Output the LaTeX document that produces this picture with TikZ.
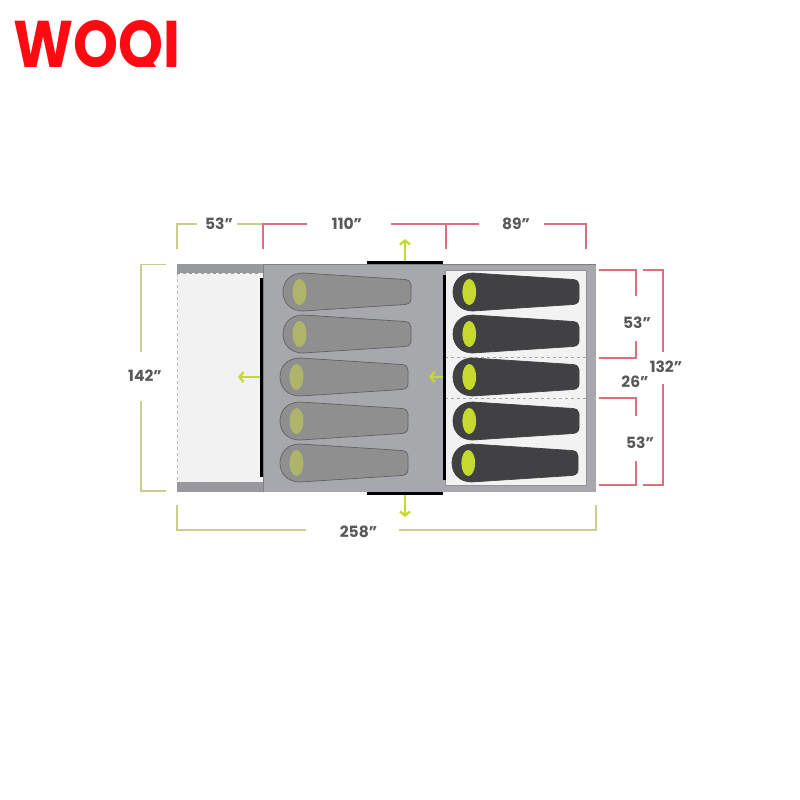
\documentclass[tikz,border=0pt]{standalone}
\usepackage{fontspec}
\setmainfont{Poppins}
\usetikzlibrary{arrows.meta}
\definecolor{logored}{HTML}{FF0A13}
\definecolor{olivedim}{HTML}{C9CE8C}
\definecolor{reddim}{HTML}{D9707E}
\definecolor{dimtext}{HTML}{58595B}
\definecolor{tentgray}{HTML}{A7A8AB}
\definecolor{bandgray}{HTML}{98999C}
\definecolor{roomlight}{HTML}{F2F2F3}
\definecolor{arrowlime}{HTML}{C6DA2E}
\definecolor{baggray}{HTML}{8F8F8F}
\definecolor{bagedge}{HTML}{606062}
\definecolor{bagdark}{HTML}{414042}
\definecolor{headolive}{HTML}{AEB56B}
\tikzset{
dimlabel/.style={text=dimtext, font=\fontsize{15.5}{15.5}\selectfont\bfseries, inner sep=0pt},
olivedimline/.style={draw=olivedim, line width=1.1pt},
reddimline/.style={draw=reddim, line width=1.1pt},
doorline/.style={draw=black, line width=3pt},
exitarrow/.style={draw=arrowlime, line width=2.4pt, -{Straight Barb[length=4pt,width=10pt,line width=2.4pt]}},
}
\newcommand{\sleepbag}[6]{% x, y, x scale, body, outline, head
\begin{scope}[shift={(#1,#2)}, xscale=#3]
\draw [fill=#4, draw=#5, line width=0.7pt] (0,0) .. controls (0,-11) and (8,-19) .. (20,-19)
-- (122,-12.5) .. controls (126,-12) and (128,-10) .. (128,-7) -- (128,6.5)
.. controls (128,10) and (126,12) .. (122,12.5) -- (20,19) .. controls (8,19) and (0,11) .. (0,0) -- cycle;
\fill [#6] (16.5,0) ellipse (7 and 13);
\end{scope}
}
\begin{document}
\begin{tikzpicture}[x=1pt,y=-1pt]
\useasboundingbox (0,0) rectangle (800,800);

\begin{scope}
\clip (0,0) rectangle (200,67);
\node (logo) [anchor=base west, inner sep=0pt, text=logored] at (13,67)
{\scalebox{0.866}[1]{\fontsize{66}{66}\selectfont\bfseries WOQI}};
\end{scope}

% tent floor
\fill [bandgray] (177,264) rectangle (263,492);
\fill [roomlight] (177,273) rectangle (263,482);
\draw [gray!50, dashed, line width=0.6pt] (177,273)--(177,482);
\draw [gray!80, dashed, line width=0.6pt] (177,273)--(261,273);
\draw [gray!80, dashed, line width=0.6pt] (177,482)--(261,482);
\fill [tentgray] (263,264) rectangle (596,492);
\draw [gray, line width=0.6pt] (263,492)--(263,264)--(596,264);
\draw [fill=roomlight, draw=gray!85, line width=0.8pt] (445,270) rectangle (586,485);
\draw [gray!70, dashed, line width=0.6pt] (445,357)--(586,357);
\draw [gray!70, dashed, line width=0.6pt] (445,398)--(586,398);

% doors
\draw [doorline] (261.5,278)--(261.5,477);
\draw [doorline] (444,275)--(444,480);
\draw [doorline] (367,262.5)--(443,262.5);
\draw [doorline] (367,493.5)--(443,493.5);

% bags
\foreach \x/\y in {283/292,283/334,280/377,280/421,280/463} {
\sleepbag{\x}{\y}{1}{baggray}{bagedge}{headolive}
}
\foreach \x/\y in {453/292,453/334,453/377,453/421,452/463} {
\sleepbag{\x}{\y}{0.985}{bagdark}{bagdark}{arrowlime}
}

% exits
\draw [exitarrow] (405,261)--(405,239);
\draw [exitarrow] (405,495)--(405,517);
\draw [exitarrow] (260,377)--(238,377);
\draw [exitarrow] (443,377)--(429,377);

% widths
\node (depthA) [dimlabel] at (219,224) {53"};
\node (depthB) [dimlabel] at (347,224) {110"};
\node (depthC) [dimlabel] at (516,224) {89"};
\node (total) [dimlabel] at (358.5,532) {258"};
\draw [olivedimline] (177,249)--(177,224)--(197,224);
\draw [olivedimline] (237,224)--(263,224);
\draw [reddimline] (263,249)--(263,224)--(307,224);
\draw [reddimline] (391,224)--(479,224);
\draw [reddimline] (446,224)--(446,249);
\draw [reddimline] (544,224)--(586,224)--(586,249);
\draw [olivedimline] (177,505)--(177,530)--(306,530);
\draw [olivedimline] (399,530)--(596,530)--(596,505);

% heights
\node (side) [dimlabel] at (145,376) {142"};
\node (roomA) [dimlabel] at (637,323) {53"};
\node (gap) [dimlabel] at (635,382) {26"};
\node (roomB) [dimlabel] at (640,443) {53"};
\node (inner) [dimlabel] at (666,367) {132"};
\draw [olivedimline] (166,264.5)--(141,264.5)--(141,352);
\draw [olivedimline] (141,401)--(141,491)--(166,491);
\draw [reddimline] (599,270)--(636,270)--(636,296);
\draw [reddimline] (636,341)--(636,358)--(599,358);
\draw [reddimline] (599,398)--(636,398)--(636,416);
\draw [reddimline] (636,461)--(636,485)--(599,485);
\draw [reddimline] (643,270)--(663,270)--(663,352);
\draw [reddimline] (663,384)--(663,485)--(643,485);
\end{tikzpicture}
\end{document}
